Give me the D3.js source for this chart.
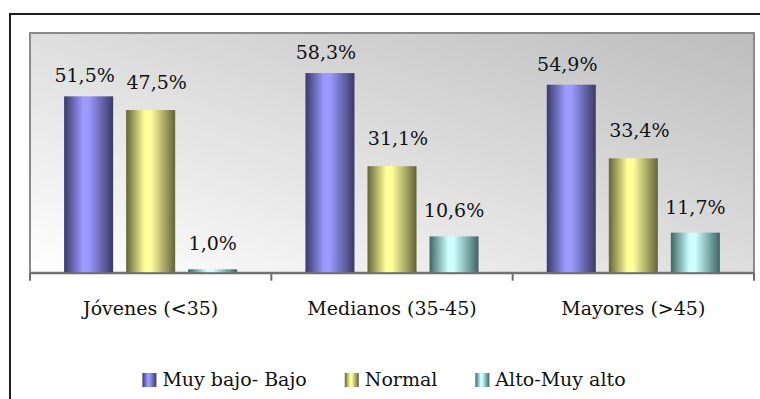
<!DOCTYPE html>
<html>
<head>
<meta charset="utf-8">
<script src="https://cdn.jsdelivr.net/npm/d3@7"></script>
<style>
  html, body { margin: 0; padding: 0; background: #fff; }
  svg { display: block; }
</style>
</head>
<body>
<svg id="chart" width="760" height="399"></svg>
<script>
// Age groups and the share of each level within them (%)
const categories = ["Jóvenes (<35)", "Medianos (35-45)", "Mayores (>45)"];
const seriesNames = ["Muy bajo- Bajo", "Normal", "Alto-Muy alto"];
const muyBajoBajo = [51.5, 58.3, 54.9];
const normal = [47.5, 31.1, 33.4];
const altoMuyAlto = [1.0, 10.6, 11.7];
const valueLabels = [
  ["51,5%", "58,3%", "54,9%"],
  ["47,5%", "31,1%", "33,4%"],
  ["1,0%", "10,6%", "11,7%"]
];
const yMax = 70;

const series = [muyBajoBajo, normal, altoMuyAlto];
const palette = [
  { dark: "#3a3a68", light: "#9a9aff" },
  { dark: "#63633a", light: "#ffff99" },
  { dark: "#3e6464", light: "#ccffff" }
];
// label nudges per series (dx, gap above bar)
const labelDx = [-4, 6, 0];
const labelGap = [14, 21, 19];
const serif = "'DejaVu Serif', serif";
const fontSize = 19;

const svg = d3.select("#chart");
const defs = svg.append("defs");

// plot-area background: light at bottom-left, grey toward top-right
const bg = defs.append("linearGradient").attr("id", "plotBg")
  .attr("x1", 0).attr("y1", 1).attr("x2", 1).attr("y2", 0);
bg.append("stop").attr("offset", "0%").attr("stop-color", "#ffffff");
bg.append("stop").attr("offset", "100%").attr("stop-color", "#bdbdbd");

// cylindrical shading for the bars
palette.forEach((p, i) => {
  const g = defs.append("linearGradient").attr("id", "bar" + i)
    .attr("x1", 0).attr("y1", 0).attr("x2", 1).attr("y2", 0);
  g.append("stop").attr("offset", "0%").attr("stop-color", p.dark);
  g.append("stop").attr("offset", "38%").attr("stop-color", p.light);
  g.append("stop").attr("offset", "50%").attr("stop-color", p.light);
  g.append("stop").attr("offset", "100%").attr("stop-color", p.dark);
});

// outer frame
svg.append("rect")
  .attr("x", 10).attr("y", 14)
  .attr("width", 770).attr("height", 420)
  .attr("fill", "#fff").attr("stroke", "#1e1e1e").attr("stroke-width", 2);

const plot = { left: 30, right: 754, top: 33, bottom: 272.7 };

svg.append("rect")
  .attr("x", plot.left).attr("y", plot.top)
  .attr("width", plot.right - plot.left).attr("height", plot.bottom - plot.top)
  .attr("fill", "url(#plotBg)")
  .attr("stroke", "#8a8a8a").attr("stroke-width", 2);

const x0 = d3.scaleBand().domain(categories).range([plot.left, plot.right])
  .paddingInner(0).paddingOuter(0);
const x1 = d3.scaleBand().domain(d3.range(series.length)).range([0, x0.bandwidth()])
  .paddingInner(0.21).paddingOuter(0.55);
const y = d3.scaleLinear().domain([0, yMax]).range([plot.bottom, plot.top]);

// bars
const groups = svg.append("g").selectAll("g")
  .data(categories).join("g")
  .attr("transform", c => `translate(${x0(c)},0)`);

groups.each(function(c, ci) {
  const g = d3.select(this);
  series.forEach((s, si) => {
    g.append("rect")
      .attr("x", x1(si))
      .attr("y", y(s[ci]))
      .attr("width", x1.bandwidth())
      .attr("height", y(0) - y(s[ci]))
      .attr("fill", `url(#bar${si})`);
    g.append("text")
      .attr("x", x1(si) + x1.bandwidth() / 2 + labelDx[si])
      .attr("y", y(s[ci]) - labelGap[si])
      .attr("text-anchor", "middle")
      .attr("font-family", serif)
      .attr("font-size", fontSize)
      .attr("fill", "#111")
      .text(valueLabels[si][ci]);
  });
});

// category axis
const xAxis = d3.axisBottom(x0).tickSize(0).tickPadding(0);
const axisG = svg.append("g").attr("transform", `translate(0,${plot.bottom})`).call(xAxis);
axisG.attr("font-family", serif).attr("font-size", fontSize);
axisG.select(".domain").attr("stroke", "#6e6e6e").attr("stroke-width", 2);
axisG.selectAll(".tick text")
  .attr("fill", "#111")
  .attr("dy", 0).attr("y", 42);
// ticks at the group boundaries
const boundaries = categories.map(c => x0(c)).concat([x0(categories[categories.length - 1]) + x0.bandwidth()]);
svg.append("g").selectAll("line").data(boundaries).join("line")
  .attr("x1", d => d).attr("x2", d => d)
  .attr("y1", plot.bottom).attr("y2", plot.bottom + 8)
  .attr("stroke", "#6e6e6e").attr("stroke-width", 2);

// legend
const legend = svg.append("g");
let cursor = 0;
seriesNames.forEach((name, i) => {
  const item = legend.append("g");
  item.append("rect").attr("x", 0).attr("y", -13).attr("width", 14).attr("height", 14)
    .attr("fill", `url(#bar${i})`);
  const t = item.append("text").attr("x", 20).attr("y", 0)
    .attr("font-family", serif)
    .attr("font-size", fontSize).attr("fill", "#111").text(name);
  const w = 20 + t.node().getComputedTextLength();
  item.attr("transform", `translate(${cursor},0)`);
  cursor += w + 38;
});
const legendWidth = cursor - 38;
legend.attr("transform", `translate(${384 - legendWidth / 2},386)`);
</script>
</body>
</html>
